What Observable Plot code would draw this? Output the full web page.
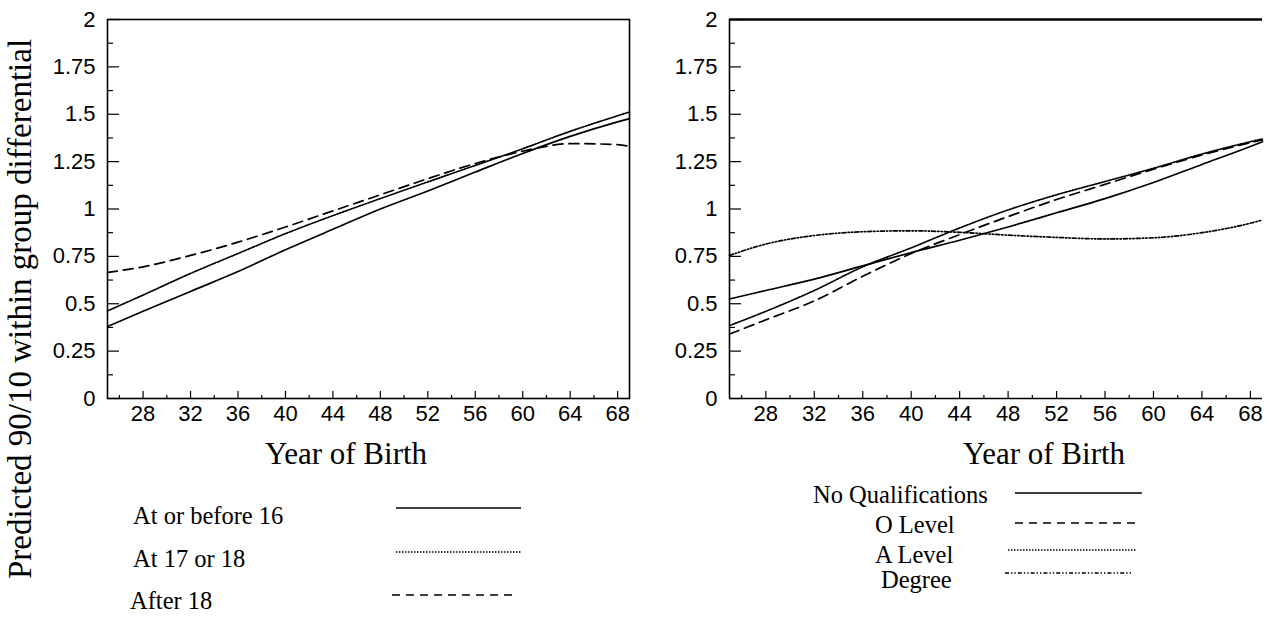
<!DOCTYPE html>
<html>
<head>
<meta charset="utf-8">
<script src="https://cdn.jsdelivr.net/npm/d3@7"></script>
<script src="https://cdn.jsdelivr.net/npm/@observablehq/plot@0.6"></script>
<style>
  html, body { margin: 0; padding: 0; background: #fff; overflow: hidden; }
  #fig { position: relative; width: 1275px; height: 617px; overflow: hidden; background: #fff; }
  #fig > svg { position: absolute; top: 0; }
  #overlay { left: 0; pointer-events: none; }
</style>
</head>
<body>
<div id="fig"></div>
<script>
// Birth cohorts (year of birth, 19xx) at which the fitted curves are read
const years = [25, 28, 32, 36, 40, 44, 48, 52, 56, 60, 64, 68, 69];

// Left panel: by age left full-time education
const leftNames = ["At or before 16", "At 17 or 18", "After 18"];
const atOrBefore16 = [0.38, 0.46, 0.565, 0.67, 0.785, 0.893, 1.0, 1.095, 1.195, 1.293, 1.383, 1.46, 1.477];
const at17or18     = [0.462, 0.546, 0.66, 0.765, 0.87, 0.965, 1.055, 1.143, 1.23, 1.318, 1.41, 1.492, 1.512];
const after18      = [0.665, 0.695, 0.755, 0.825, 0.905, 0.99, 1.075, 1.16, 1.24, 1.305, 1.345, 1.34, 1.33];

// Right panel: by highest qualification
const rightNames = ["No Qualifications", "O Level", "A Level", "Degree"];
const noQualifications = [0.525, 0.57, 0.63, 0.70, 0.77, 0.835, 0.905, 0.98, 1.055, 1.14, 1.235, 1.33, 1.355];
const oLevel           = [0.34, 0.415, 0.515, 0.645, 0.765, 0.865, 0.96, 1.05, 1.13, 1.21, 1.285, 1.35, 1.365];
const aLevel           = [0.385, 0.46, 0.57, 0.695, 0.795, 0.90, 0.995, 1.075, 1.145, 1.215, 1.29, 1.355, 1.37];
const degree           = [0.755, 0.815, 0.86, 0.88, 0.885, 0.877, 0.862, 0.85, 0.842, 0.848, 0.875, 0.925, 0.942];

// Axis ticks
const yMajor = [0, 0.25, 0.5, 0.75, 1, 1.25, 1.5, 1.75, 2];
const yMinor = [0.125, 0.375, 0.625, 0.875, 1.125, 1.375, 1.625, 1.875];
const xMajor = [28, 32, 36, 40, 44, 48, 52, 56, 60, 64, 68];
const xMinor = [26, 30, 34, 38, 42, 46, 50, 54, 58, 62, 66];

const yTitle = "Predicted 90/10 within group differential";
const xTitle = "Year of Birth";

// Line styles
const dash = {
  solid: null,
  dotted: "1.5,1.5",
  dashed: "10,6",
  dashdot: "4,2,1.4,2,1.4,2"
};
const leftStyles = [dash.solid, dash.dotted, dash.dashed];
const rightStyles = [dash.solid, dash.dashed, dash.dotted, dash.dashdot];

const SERIF = "'Liberation Serif', 'Times New Roman', serif";
const SANS = "'Liberation Sans', Arial, sans-serif";

function tidy(names, series) {
  return names.flatMap((name, k) => years.map((year, i) => ({name, year, value: series[k][i]})));
}

function panel({names, series, styles, width, marginLeft, marginRight, fullFrame}) {
  const rows = tidy(names, series);
  const frameMarks = fullFrame
    ? [Plot.frame({strokeWidth: 1.6})]
    : [Plot.ruleY([2], {strokeWidth: 2.6}), Plot.ruleY([0], {strokeWidth: 1.6}), Plot.ruleX([25], {strokeWidth: 1.6})];
  return Plot.plot({
    width,
    height: 440,
    marginLeft,
    marginRight,
    marginTop: 19,
    marginBottom: 42,
    style: {background: "transparent", color: "#000", fontFamily: SANS, fontSize: "22px", overflow: "visible"},
    x: {domain: [25, 69]},
    y: {domain: [0, 2]},
    marks: [
      // inward ticks
      Plot.axisY(yMajor, {anchor: "right", frameAnchor: "left", tickSize: 11, fill: "none", label: null, strokeWidth: 1.2}),
      Plot.axisY(yMinor, {anchor: "right", frameAnchor: "left", tickSize: 5, fill: "none", label: null, strokeWidth: 1.2}),
      Plot.axisX(xMajor, {anchor: "top", frameAnchor: "bottom", tickSize: 8, fill: "none", label: null, strokeWidth: 1.2}),
      Plot.axisX(xMinor, {anchor: "top", frameAnchor: "bottom", tickSize: 4, fill: "none", label: null, strokeWidth: 1.2}),
      // tick labels
      Plot.axisY(yMajor, {anchor: "left", tickSize: 0, tickPadding: 12, label: null, fontSize: 22, tickFormat: d => String(d)}),
      Plot.axisX(xMajor, {anchor: "bottom", tickSize: 0, tickPadding: 7, label: null, fontSize: 22, tickFormat: d => String(d)}),
      ...frameMarks,
      ...names.map((name, k) => Plot.line(rows.filter(d => d.name === name), {
        x: "year", y: "value", curve: "monotone-x",
        stroke: "#000", strokeWidth: 1.7, strokeDasharray: styles[k]
      }))
    ]
  });
}

const fig = document.getElementById("fig");

const left = panel({
  names: leftNames, series: [atOrBefore16, at17or18, after18], styles: leftStyles,
  width: 640, marginLeft: 107, marginRight: 11, fullFrame: true
});
left.style.left = "0px";
fig.appendChild(left);

const right = panel({
  names: rightNames, series: [noQualifications, oLevel, aLevel, degree], styles: rightStyles,
  width: 635, marginLeft: 89, marginRight: 13, fullFrame: false
});
right.style.left = "640px";
fig.appendChild(right);

// Titles and legends
const svg = d3.select(fig).append("svg")
  .attr("id", "overlay")
  .attr("width", 1275).attr("height", 617)
  .style("font-family", SERIF);

svg.append("text")
  .attr("transform", "translate(31,309) rotate(-90)")
  .attr("text-anchor", "middle")
  .attr("font-size", 33)
  .text(yTitle);

svg.append("text").attr("x", 346).attr("y", 464).attr("text-anchor", "middle").attr("font-size", 31).text(xTitle);
svg.append("text").attr("x", 1044).attr("y", 464).attr("text-anchor", "middle").attr("font-size", 31).text(xTitle);

const leftLegend = [
  {tx: 133, ty: 524, x1: 396, x2: 521, y: 508},
  {tx: 133, ty: 567, x1: 396, x2: 521, y: 552},
  {tx: 130, ty: 609, x1: 392, x2: 517, y: 595}
];
const rightLegend = [
  {tx: 813, ty: 503, x1: 1015, x2: 1142, y: 493},
  {tx: 875, ty: 533, x1: 1015, x2: 1140, y: 523},
  {tx: 875, ty: 563, x1: 1008, x2: 1137, y: 550},
  {tx: 881, ty: 588, x1: 1005, x2: 1133, y: 573}
];

function legend(names, styles, spots, fontSize) {
  names.forEach((name, k) => {
    const p = spots[k];
    svg.append("text").attr("x", p.tx).attr("y", p.ty).attr("font-size", fontSize).text(name);
    svg.append("line")
      .attr("x1", p.x1).attr("x2", p.x2).attr("y1", p.y).attr("y2", p.y)
      .attr("stroke", "#000").attr("stroke-width", 1.6)
      .attr("stroke-dasharray", styles[k] === dash.dashed ? "8,6" : styles[k]);
  });
}
legend(leftNames, leftStyles, leftLegend, 24.5);
legend(rightNames, rightStyles, rightLegend, 24.5);
</script>
</body>
</html>
